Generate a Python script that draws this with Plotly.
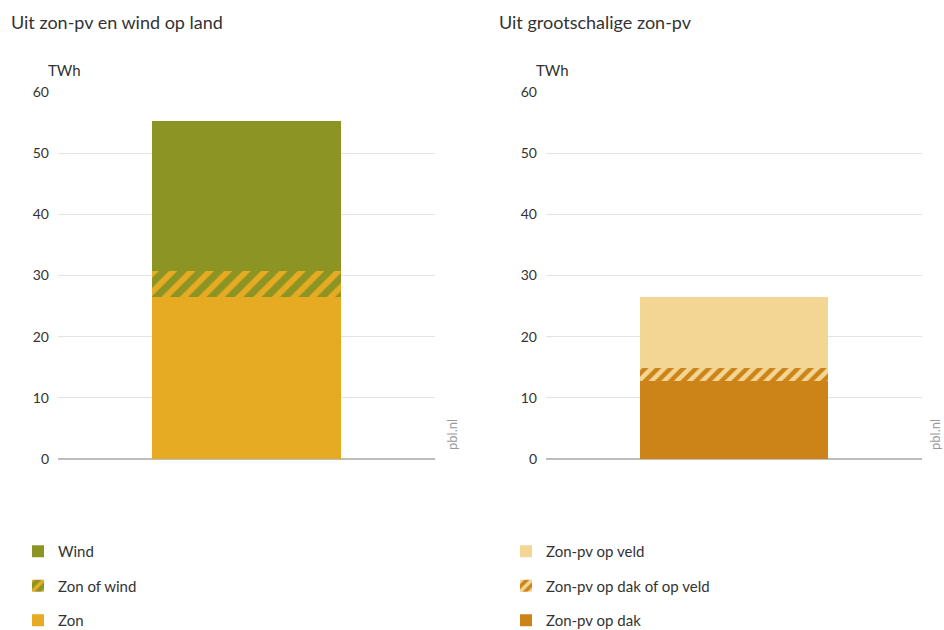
import plotly.graph_objects as go

# Data
categories = [""]
left_labels = ["Zon", "Zon of wind", "Wind"]
left_values = [26.5, 4.2, 24.5]
right_labels = ["Zon-pv op dak", "Zon-pv op dak of op veld", "Zon-pv op veld"]
right_values = [12.8, 2.1, 11.6]
y_ticks = [0, 10, 20, 30, 40, 50, 60]

GREEN = "#8c9423"
ORANGE = "#e6ab22"
LIGHT = "#f3d594"
DARK = "#cc8419"
FONT = "Lato"
TXT = "#333333"

W, H = 944, 630


def px(x):
    return x / W


def py(y):
    return 1 - y / H


fig = go.Figure()

# left panel (legend rank: Wind on top)
fig.add_trace(go.Bar(x=categories, y=[left_values[0]], name=left_labels[0],
                     marker=dict(color=ORANGE, line=dict(width=0)),
                     xaxis="x", yaxis="y", legend="legend", legendgroup="l1", legendrank=3))
fig.add_trace(go.Bar(x=categories, y=[left_values[1]], name=left_labels[1],
                     marker=dict(color=GREEN, line=dict(width=0),
                                 pattern=dict(shape="/", fgcolor=ORANGE, fgopacity=1,
                                              size=13, solidity=0.45, fillmode="overlay")),
                     xaxis="x", yaxis="y", legend="legend", legendgroup="l2", legendrank=2))
fig.add_trace(go.Bar(x=categories, y=[left_values[2]], name=left_labels[2],
                     marker=dict(color=GREEN, line=dict(width=0)),
                     xaxis="x", yaxis="y", legend="legend", legendgroup="l3", legendrank=1))

# right panel
fig.add_trace(go.Bar(x=categories, y=[right_values[0]], name=right_labels[0],
                     marker=dict(color=DARK, line=dict(width=0)),
                     xaxis="x2", yaxis="y2", legend="legend2", legendgroup="r1", legendrank=3))
fig.add_trace(go.Bar(x=categories, y=[right_values[1]], name=right_labels[1],
                     marker=dict(color=DARK, line=dict(width=0),
                                 pattern=dict(shape="/", fgcolor=LIGHT, fgopacity=1,
                                              size=9, solidity=0.5, fillmode="overlay")),
                     xaxis="x2", yaxis="y2", legend="legend2", legendgroup="r2", legendrank=2))
fig.add_trace(go.Bar(x=categories, y=[right_values[2]], name=right_labels[2],
                     marker=dict(color=LIGHT, line=dict(width=0)),
                     xaxis="x2", yaxis="y2", legend="legend2", legendgroup="r3", legendrank=1))

ydom = [py(459), py(92)]

yax = dict(range=[0, 60], tickvals=y_ticks, showgrid=True, gridcolor="#e3e3e3", gridwidth=1,
           zeroline=True, zerolinecolor="#bdbdbd", zerolinewidth=2, showline=False,
           ticks="", ticklabelstandoff=8, tickfont=dict(family=FONT, size=14, color=TXT),
           domain=ydom, fixedrange=True)
xax = dict(range=[-0.5, 0.5], showticklabels=False, showgrid=False, zeroline=False,
           showline=False, ticks="", fixedrange=True)

legend_common = dict(orientation="v", traceorder="grouped", tracegroupgap=12,
                     font=dict(family=FONT, size=15, color=TXT), bgcolor="rgba(0,0,0,0)",
                     xanchor="left", yanchor="bottom", y=-7 / H, itemwidth=30)

fig.update_layout(
    width=W, height=H,
    margin=dict(l=0, r=0, t=0, b=0, autoexpand=False),
    paper_bgcolor="white", plot_bgcolor="white",
    barmode="stack", bargap=0.5,
    font=dict(family=FONT, color=TXT),
    xaxis=dict(xax, domain=[px(58), px(435)], anchor="y"),
    yaxis=dict(yax, anchor="x"),
    xaxis2=dict(xax, domain=[px(546), px(922)], anchor="y2"),
    yaxis2=dict(yax, anchor="x2"),
    legend=dict(legend_common, x=px(18)),
    legend2=dict(legend_common, x=px(506)),
    showlegend=True,
    annotations=[
        dict(text="Uit zon-pv en wind op land", x=px(9), y=py(22), xref="paper", yref="paper",
             xanchor="left", yanchor="middle", showarrow=False, font=dict(family=FONT, size=18, color=TXT)),
        dict(text="Uit grootschalige zon-pv", x=px(497), y=py(22), xref="paper", yref="paper",
             xanchor="left", yanchor="middle", showarrow=False, font=dict(family=FONT, size=18, color=TXT)),
        dict(text="TWh", x=px(46), y=py(70), xref="paper", yref="paper",
             xanchor="left", yanchor="middle", showarrow=False, font=dict(family=FONT, size=15, color=TXT)),
        dict(text="TWh", x=px(534), y=py(70), xref="paper", yref="paper",
             xanchor="left", yanchor="middle", showarrow=False, font=dict(family=FONT, size=15, color=TXT)),
        dict(text="pbl.nl", x=px(452), y=py(435), xref="paper", yref="paper", textangle=-90,
             xanchor="center", yanchor="middle", showarrow=False, font=dict(family=FONT, size=13, color="#9a9a9a")),
        dict(text="pbl.nl", x=px(935), y=py(435), xref="paper", yref="paper", textangle=-90,
             xanchor="center", yanchor="middle", showarrow=False, font=dict(family=FONT, size=13, color="#9a9a9a")),
    ],
)

# remove the default page margin so the 944x630 figure fills the window exactly
fig.write_html("out.html", config={"displayModeBar": False},
               post_script="document.body.style.margin='0';document.body.style.overflow='hidden';")
